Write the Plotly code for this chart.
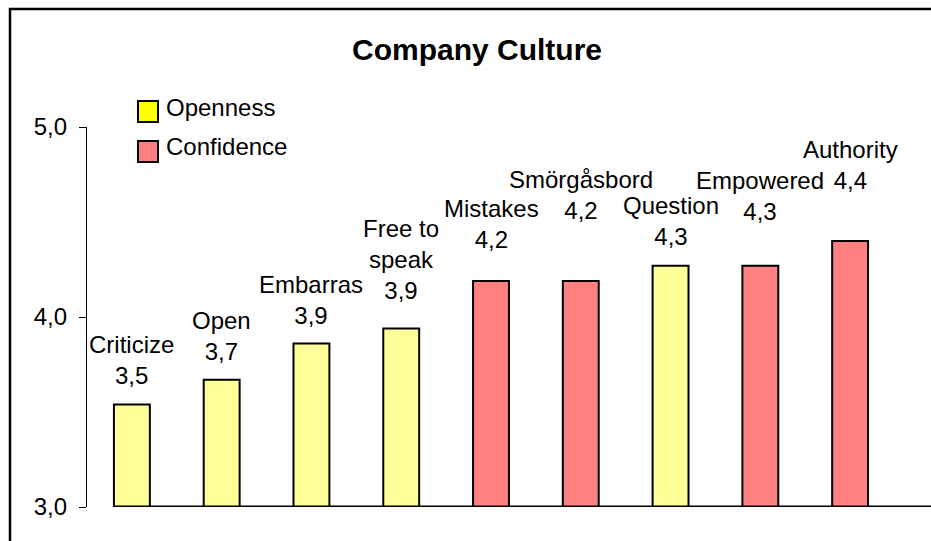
import plotly.graph_objects as go

# ---- data ----
categories = ["Criticize", "Open", "Embarras", "Free to speak", "Mistakes",
              "Smörgåsbord", "Question", "Empowered", "Authority"]
label_names = ["Criticize", "Open", "Embarras", "Free to<br>speak", "Mistakes",
               "Smörgåsbord", "Question", "Empowered", "Authority"]
values = [3.54, 3.67, 3.86, 3.94, 4.19, 4.19, 4.27, 4.27, 4.40]
groups = ["Openness", "Openness", "Openness", "Openness", "Confidence",
          "Confidence", "Openness", "Confidence", "Confidence"]
series_names = ["Openness", "Confidence"]
y_tick_vals = [3.0, 4.0, 5.0]
y_tick_text = ["3,0", "4,0", "5,0"]
title_text = "Company Culture"

# ---- styles ----
bar_colors = {"Openness": "#FFFF99", "Confidence": "#FF8080"}
legend_colors = {"Openness": "#FFFF00", "Confidence": "#FF8080"}
label_gap = [13, 13, 13, 22, 26, 55, 14, 39, 45]  # px shift of labels above bars
FONT = "Liberation Sans, Arial, sans-serif"

W, H = 931, 541
ML, MR, MT, MB = 87, 36, 127, 34
PW, PH = W - ML - MR, H - MT - MB


def px(x):
    return (x - ML) / PW


def py(y):
    return 1 + (MT - y) / PH


fig = go.Figure()
for s in series_names:
    xs = [c for c, g in zip(categories, groups) if g == s]
    ys = [v for v, g in zip(values, groups) if g == s]
    fig.add_trace(go.Bar(
        x=xs, y=ys, name=s, width=0.4, showlegend=False,
        marker=dict(color=bar_colors[s], line=dict(color="black", width=2)),
        hoverinfo="x+y",
    ))

annotations = []
for c, ln, v, gap in zip(categories, label_names, values, label_gap):
    annotations.append(dict(
        x=c, y=v, xref="x", yref="y", text=f"{ln}<br>{v:.1f}".replace(".", ","),
        showarrow=False, yanchor="bottom", xanchor="center", yshift=gap,
        font=dict(family=FONT, size=24, color="black"), align="center",
    ))

# title
annotations.append(dict(
    x=px(477), y=py(50), xref="paper", yref="paper", text=f"<b>{title_text}</b>",
    showarrow=False, xanchor="center", yanchor="middle",
    font=dict(family=FONT, size=30, color="black"),
))

shapes = []
# legend (drawn manually)
leg_tops = [101, 141]
for s, top in zip(series_names, leg_tops):
    shapes.append(dict(type="rect", xref="paper", yref="paper",
                       x0=px(138), x1=px(158), y0=py(top + 21), y1=py(top),
                       fillcolor=legend_colors[s], line=dict(color="black", width=2)))
    annotations.append(dict(
        x=px(164), y=py(top + 6), xref="paper", yref="paper", text=s,
        showarrow=False, xanchor="left", yanchor="middle",
        font=dict(family=FONT, size=24, color="black"),
    ))

# x-axis baseline
shapes.append(dict(type="line", xref="paper", yref="y", x0=px(113), x1=px(940),
                   y0=3.0, y1=3.0, line=dict(color="black", width=3)))
# outer frame
shapes.append(dict(type="rect", xref="paper", yref="paper",
                   x0=px(10), x1=px(960), y0=py(570), y1=py(9),
                   line=dict(color="black", width=2.5), fillcolor="rgba(0,0,0,0)"))

fig.update_layout(
    width=W, height=H,
    margin=dict(l=ML, r=MR, t=MT, b=MB, pad=0),
    paper_bgcolor="white", plot_bgcolor="white",
    barmode="overlay", showlegend=False,
    font=dict(family=FONT, size=24, color="black"),
    xaxis=dict(type="category", categoryorder="array", categoryarray=categories,
               range=[-0.5, len(categories) - 0.5], showticklabels=False,
               showline=False, showgrid=False, zeroline=False, ticks=""),
    yaxis=dict(range=[3.0, 5.0], tickvals=y_tick_vals, ticktext=y_tick_text,
               showline=True, linecolor="black", linewidth=1.2,
               ticks="outside", ticklen=7, tickcolor="black", tickwidth=1.2,
               showgrid=False, zeroline=False, ticklabelstandoff=7,
               tickfont=dict(family=FONT, size=24, color="black")),
    annotations=annotations, shapes=shapes,
)

fig.write_html("out.html")
